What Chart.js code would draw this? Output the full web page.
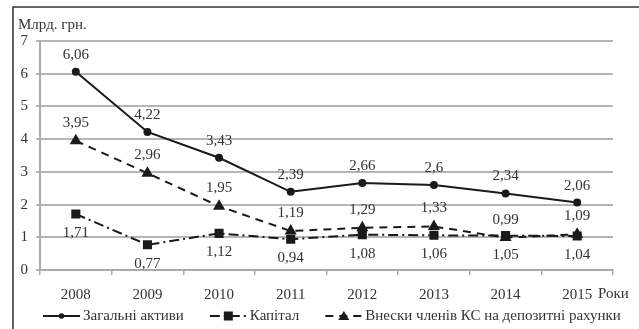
<!DOCTYPE html>
<html>
<head>
<meta charset="utf-8">
<script src="https://cdn.jsdelivr.net/npm/chart.js@4/dist/chart.umd.min.js"></script>
<style>
html,body{margin:0;padding:0;background:#fff;overflow:hidden;}
#wrap{width:639px;height:329px;position:relative;}
</style>
</head>
<body>
<div id="wrap"><canvas id="c" width="639" height="329"></canvas></div>
<script>
const years = ['2008','2009','2010','2011','2012','2013','2014','2015'];
const totalAssets = [6.06, 4.22, 3.43, 2.39, 2.66, 2.6, 2.34, 2.06];
const capital = [1.71, 0.77, 1.12, 0.94, 1.08, 1.06, 1.05, 1.04];
const deposits = [3.95, 2.96, 1.95, 1.19, 1.29, 1.33, 0.99, 1.09];
const seriesNames = ['Загальні активи', 'Капітал', 'Внески членів КС на депозитні рахунки'];
const yTicks = [0, 1, 2, 3, 4, 5, 6, 7];
const yUnit = 'Млрд. грн.';
const xUnit = 'Роки';

const INK = '#1a1a1a';
const TXT = '#333';
const FONT = '"Liberation Serif", "Times New Roman", serif';

const labelOffsets = [-17, 19, -18];

function drawMarker(ctx, style, x, y) {
  ctx.beginPath();
  if (style === 'circle') { ctx.arc(x, y, 2.8, 0, Math.PI * 2); ctx.fill(); }
  if (style === 'rect') { ctx.fillRect(x - 4.5, y - 4.5, 9, 9); }
  if (style === 'triangle') { ctx.moveTo(x, y - 5); ctx.lineTo(x + 5.5, y + 4); ctx.lineTo(x - 5.5, y + 4); ctx.closePath(); ctx.fill(); }
}

const decor = {
  id: 'decor',
  afterDraw(chart) {
    const ctx = chart.ctx;
    const ca = chart.chartArea;
    ctx.save();
    // frame
    ctx.strokeStyle = '#333';
    ctx.lineWidth = 1.5;
    ctx.beginPath();
    ctx.moveTo(13, 329); ctx.lineTo(13, 7); ctx.lineTo(639, 7);
    ctx.stroke();
    // unit labels
    ctx.fillStyle = TXT;
    ctx.font = '15px ' + FONT;
    ctx.textBaseline = 'middle';
    ctx.textAlign = 'left';
    ctx.fillText(yUnit, ca.left - 22, ca.top - 16);
    ctx.fillText(xUnit, ca.right - 15, ca.bottom + 24);
    // data labels
    ctx.textAlign = 'center';
    chart.data.datasets.forEach((ds, i) => {
      const meta = chart.getDatasetMeta(i);
      meta.data.forEach((pt, j) => {
        const txt = String(ds.data[j]).replace('.', ',');
        ctx.fillText(txt, pt.x, pt.y + labelOffsets[i]);
      });
    });
    // legend
    ctx.textAlign = 'left';
    let x = ca.left + 3;
    const y = ca.bottom + 46;
    chart.data.datasets.forEach((ds) => {
      ctx.strokeStyle = INK; ctx.fillStyle = INK; ctx.lineWidth = 2;
      ctx.setLineDash(ds.borderDash || []);
      ctx.beginPath(); ctx.moveTo(x, y); ctx.lineTo(x + 37, y); ctx.stroke();
      ctx.setLineDash([]);
      drawMarker(ctx, ds.pointStyle, x + 18.5, y);
      ctx.fillStyle = TXT;
      ctx.fillText(ds.label, x + 40, y);
      x += 40 + ctx.measureText(ds.label).width + 26;
    });
    ctx.restore();
  }
};

new Chart(document.getElementById('c'), {
  type: 'line',
  data: {
    labels: years,
    datasets: [
      {
        label: seriesNames[0], data: totalAssets,
        borderColor: INK, backgroundColor: INK, borderWidth: 2,
        pointStyle: 'circle', pointRadius: 3, tension: 0
      },
      {
        label: seriesNames[1], data: capital,
        borderColor: INK, backgroundColor: INK, borderWidth: 2,
        borderDash: [10, 4, 2, 4],
        pointStyle: 'rect', pointRadius: 5, tension: 0
      },
      {
        label: seriesNames[2], data: deposits,
        borderColor: INK, backgroundColor: INK, borderWidth: 2,
        borderDash: [8, 6],
        pointStyle: 'triangle', pointRadius: 5, tension: 0
      }
    ]
  },
  options: {
    responsive: false,
    animation: false,
    devicePixelRatio: 1,
    layout: { padding: { left: 13, right: 26, top: 41, bottom: 25 } },
    plugins: {
      tooltip: { enabled: false },
      legend: { display: false }
    },
    scales: {
      x: {
        offset: true,
        grid: { display: true, drawOnChartArea: false, offset: true, color: '#aaa', lineWidth: 1.5, tickLength: 5 },
        border: { color: '#aaa', width: 2 },
        ticks: { color: TXT, padding: 11, font: { family: FONT, size: 15 } },
        afterFit(s) { s.height = 34; }
      },
      y: {
        min: 0, max: 7,
        afterBuildTicks(s) { s.ticks = yTicks.map(v => ({ value: v })); },
        grid: { color: '#b5b5b5', lineWidth: 2, tickLength: 4 },
        border: { color: '#aaa', width: 2 },
        ticks: { color: TXT, padding: 8, font: { family: FONT, size: 15 } },
        afterFit(s) { s.width = 27; }
      }
    }
  },
  plugins: [decor]
});
</script>
</body>
</html>
